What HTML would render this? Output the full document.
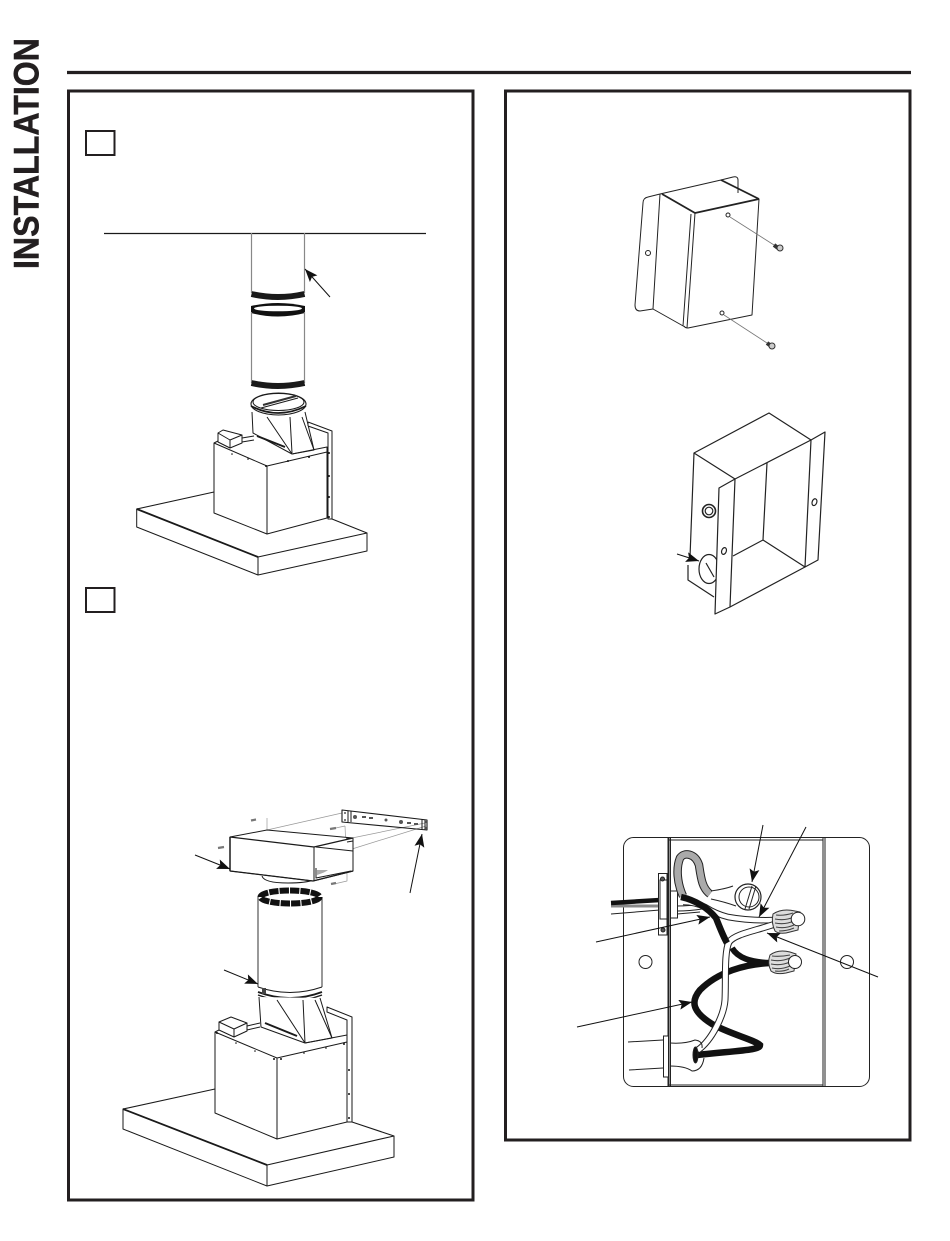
<!DOCTYPE html>
<html><head><meta charset="utf-8"><style>
html,body{margin:0;padding:0;background:#fff}
svg{display:block}
text{font-family:"Liberation Sans",sans-serif;font-weight:bold;fill:#231f20;stroke:#231f20;stroke-width:.5}
</style></head><body>
<svg width="950" height="1241" viewBox="0 0 950 1241" xmlns="http://www.w3.org/2000/svg">
<defs>
<marker id="a" markerUnits="userSpaceOnUse" markerWidth="14" markerHeight="10" refX="13" refY="5" orient="auto"><path d="M0 0L13 5L0 10L2.5 5Z" fill="#111"/></marker>
</defs>
<rect width="950" height="1241" fill="#fff"/>
<text transform="translate(38.500,269) rotate(-90)" font-size="34.8" textLength="231" lengthAdjust="spacingAndGlyphs">INSTALLATION</text>
<g fill="none" stroke="#231f20" stroke-width="3">
<path d="M67 72.500H911" stroke-width="3.200"/>
<rect x="68.500" y="91" width="404.500" height="1109"/>
<rect x="505.500" y="91" width="404.500" height="1049"/>
<rect x="86" y="131" width="28.500" height="24" stroke-width="2"/>
<rect x="86" y="588" width="28.500" height="24" stroke-width="2"/>
</g>

<!-- Figure 1 -->
<g fill="none" stroke="#1a1a1a" stroke-width="1" stroke-linejoin="round">
<path d="M104 233.500H426" stroke-width="1.300"/>
<path d="M251.500 233V293M304.500 233V293" stroke="#888" stroke-width="1.200"/>
<path d="M251.500 294Q278 300 304.500 294" stroke-width="6"/>
<path d="M251 306Q278 300 305 306V313Q278 320 251 313Z" fill="#111" stroke="none"/>
<ellipse cx="278" cy="308.500" rx="24" ry="2.800" fill="#fff" stroke="none"/>
<path d="M251.500 312V383M304.500 312V383" stroke="#888" stroke-width="1.200"/>
<path d="M251.500 383Q278 389 304.500 383" stroke-width="6"/>
<!-- transition -->
<path d="M252 412L253 433L292 454L314 450L305 412" fill="#fff"/>
<path d="M267 417L292 454M290 417L292 453M302 417L314 450"/>
<path d="M257 436L285 447" stroke-width="2"/>
<ellipse cx="278.500" cy="404" rx="27.500" ry="11" fill="#fff" stroke-width="1.100"/>
<ellipse cx="278.500" cy="402" rx="25.500" ry="8.500" fill="#fff" stroke-width="1"/>
<path d="M251 406Q278 420 306 406" stroke-width="1.800"/>
<path d="M261 408L298 398" stroke-width="1"/>
<path d="M263 405L296 396" stroke-width="2" stroke="#333"/>
<!-- box -->
<path d="M214 443L267 466L267 534L214 513Z" fill="#fff"/>
<path d="M267 466L327 452V518L267 534Z" fill="#fff"/>
<path d="M214 443L218 441M292 454L327 447V452"/>
<path d="M308 422L332 431V519H328V433L308 426M308 422V426" fill="#fff"/>
<path d="M218 433L223 430L242 435V443L230 448L218 442Z" fill="#fff"/>
<path d="M230 440V448M218 433L230 440L242 435M242 438L254 436M242 442L254 440"/>
<!-- base -->
<path d="M214 492L136.700 509L258 557L367 533L332 519" stroke-width="1.100"/>
<path d="M136.700 509L258 557" stroke-width="1.800"/>
<path d="M136.700 509V527L258 575L367 551V533M258 557V575"/>
</g>
<path d="M330 297L305 269" stroke="#111" fill="none" marker-end="url(#a)"/>
<g fill="#111">
<circle cx="232" cy="454" r=".8"/><circle cx="248" cy="459" r=".8"/><circle cx="266" cy="466" r="1"/><circle cx="288" cy="461" r="1"/><circle cx="309" cy="457" r="1"/><circle cx="329" cy="453" r="1"/><circle cx="329" cy="476" r="1"/><circle cx="329" cy="497" r="1"/><circle cx="329" cy="517" r="1"/>
</g>

<!-- Figure 2 -->
<g fill="none" stroke="#1a1a1a" stroke-width="1" stroke-linejoin="round">
<!-- guide lines -->
<g stroke="#999" stroke-width=".7">
<path d="M267 818V831M241 845L232 847M267 830L342 813M345 826L347 872L347 881L334 884M345 826L331 829M352 838L425 823M352 849L426 826"/>
</g>
<g stroke="#777" stroke-width="2.200">
<path d="M251 820.500L256 819.500M218 848L224 847M330 829L336 828M331 884L336 883"/>
</g>
<!-- bracket -->
<path d="M342 810L427 820V830L342 822Z" stroke-width="1.100"/>
<path d="M348 811V822M351 811V822M422 819V829M425 820V830" stroke-width="1"/>
<g fill="#555" stroke="none"><circle cx="355" cy="817" r="2"/><rect x="362" y="816" width="4" height="2"/><rect x="369" y="817" width="4" height="2"/><circle cx="386" cy="820" r="1.500"/><circle cx="401" cy="822" r="2"/><rect x="407" y="822" width="4" height="2"/><rect x="414" y="823" width="4" height="2"/><circle cx="345" cy="813" r="1"/><circle cx="345" cy="820" r="1"/><circle cx="426" cy="822" r="1"/><circle cx="426" cy="828" r="1"/></g>
<!-- duct box -->
<path d="M262 876Q264 883 288 883Q306 883 313 880" fill="#fff"/>
<path d="M230 837L267 830L353 838V871L313 881L230 871Z" fill="#fff"/>
<path d="M230 837L314 847L353 838" stroke-width="1.300"/>
<path d="M230 837V871" stroke-width="1.500"/>
<path d="M230 871L313 881L353 871" stroke-width="1.300"/>
<path d="M314 847V881"/>
<path d="M316 847L353 851V871M316 868V878L351 871"/>
<path d="M346 838L353 838V841L347 842" stroke-width="1"/>
<path d="M317 870Q325 870 328 870Q326 872 317 875Z" fill="#aaa" stroke="none"/>
<!-- duct -->
<path d="M258 897V987M322 897V987" stroke="#555" stroke-width="1.200"/>
<ellipse cx="290" cy="897" rx="29.500" ry="6.500" stroke="#111" stroke-width="6" stroke-dasharray="9.300 1.100"/>
<path d="M258 987Q290 998 322 987" fill="#fff"/>
<path d="M258 992Q290 1004 322 992" stroke-width="1.800"/>
<path d="M258 995Q290 1007 322 995" stroke-width="1.400"/>
<!-- transition -->
<path d="M259 997L261 1027L305 1043L332 1038L320 998" fill="#fff"/>
<path d="M277 1000L305 1043M303 1000L305 1043M315 1000L332 1038"/>
<path d="M265 1023L297 1036" stroke-width="2"/>
<rect x="262" y="988" width="4" height="6" fill="#444" stroke="none"/>
<!-- box -->
<path d="M215 1032L277 1058V1139L215 1113Z" fill="#fff"/>
<path d="M277 1058L347 1042V1122L277 1139Z" fill="#fff"/>
<path d="M215 1032L219 1030M305 1043L347 1035V1042"/>
<path d="M327 1007L352 1017V1122H347V1020L327 1012ZM327 1007V1012" fill="#fff"/>
<path d="M219 1022L231 1017L247 1023V1031L234 1037L219 1030Z" fill="#fff"/>
<path d="M234 1029V1037M219 1022L234 1029L247 1023M247 1026L260 1023M247 1030L260 1027"/>
<!-- base -->
<path d="M215 1089L123 1109L267 1165L394 1136L352 1122" stroke-width="1.100"/>
<path d="M123 1109L267 1165" stroke-width="1.800"/>
<path d="M123 1109V1129L267 1186L394 1157V1136M267 1165V1186"/>
</g>
<g stroke="#111" fill="none">
<path d="M195 855L230 869" marker-end="url(#a)"/>
<path d="M410 893L422 834" marker-end="url(#a)"/>
<path d="M224 970L258 984" marker-end="url(#a)"/>
</g>
<g fill="#111">
<circle cx="217" cy="1033" r="1"/><circle cx="236" cy="1043" r=".8"/><circle cx="255" cy="1051" r=".8"/><circle cx="274" cy="1059" r="1"/><circle cx="281" cy="1059" r="1"/><circle cx="304" cy="1053" r=".8"/><circle cx="326" cy="1048" r=".8"/><circle cx="344" cy="1044" r="1"/><circle cx="349" cy="1070" r="1"/><circle cx="349" cy="1094" r="1"/><circle cx="349" cy="1118" r="1"/>
</g>

<!-- Figure 3 -->
<g fill="none" stroke="#222" stroke-width="1" stroke-linejoin="round">
<path d="M660 194L648 197Q643 198 643 203L635 305Q635 311 640 311L653 309"/>
<path d="M660 194L653 309L685 327"/>
<path d="M660 194L721 180L759 199" stroke-width="1"/>
<path d="M662 194L695 213M721 180L759 199M695 213L759 199" stroke-width="1.800"/>
<path d="M759 199L752 315L688 328Q685 328 684 326M691 214L683 326M695 213L687 328"/>
<path d="M721 180L733 177Q738 176 738 180L738 193"/>
<circle cx="648" cy="253" r="2.500"/>
<circle cx="728" cy="215" r="2"/><circle cx="722" cy="313" r="2"/>
<path d="M730 217L774 245M724 315L767 343" stroke="#777" stroke-width=".8"/>
<path d="M774 245L778 248M767 343L771 346" stroke="#333" stroke-width="4"/>
<circle cx="780" cy="248" r="3" fill="#ccc" stroke="#333"/><circle cx="772" cy="346" r="3" fill="#ccc" stroke="#333"/>
</g>

<!-- Figure 4 -->
<g fill="none" stroke="#222" stroke-width="1.200" stroke-linejoin="round">
<path d="M769 413L694 453L735 479L811 440Z"/>
<path d="M694 453L690 557M688 565V580L714 597"/>
<ellipse cx="709" cy="569" rx="10" ry="14.500" fill="#fff"/>
<path d="M706 563L714 577"/>
<path d="M719 488L735 479L730 607L715 614Z" fill="#fff"/>
<path d="M811 440L825 432L818 560L805 567Z"/>
<path d="M767 463L763 540L733 556M763 540L805 567M730 607L805 567"/>
<circle cx="709" cy="511" r="6.500" stroke-width="1.600"/><circle cx="709" cy="511" r="3.800"/>
<ellipse cx="724" cy="551" rx="2.300" ry="3.500" transform="rotate(20 724 551)"/>
<ellipse cx="814.500" cy="502" rx="2.300" ry="3.500" transform="rotate(20 814 502)"/>
</g>
<path d="M677 554L699 561" stroke="#111" fill="none" marker-end="url(#a)"/>

<!-- Figure 5 -->
<g fill="none" stroke="#222" stroke-width="1">
<rect x="623.500" y="837.500" width="246" height="249" rx="10"/>
<path d="M668.500 837V1087" stroke-width="2"/>
<path d="M670.500 837V1087M823 837V1087M825 837V1087"/>
<path d="M668 840H823M668 1085H823"/>
<circle cx="645.500" cy="962" r="6.500"/>
<circle cx="847" cy="962" r="6.500"/>
<path d="M611 914L660 910" stroke-width="1"/>
<path d="M611 906L660 906" stroke="#888" stroke-width="3"/>
<path d="M611 903L660 900" stroke="#111" stroke-width="4.500"/>
<rect x="658.500" y="873.500" width="8.500" height="61.500" fill="#fff"/>
<rect x="660" y="880" width="7" height="39" fill="#fff"/>
<rect x="670.500" y="891" width="7" height="27" fill="#fff"/>
<circle cx="662.500" cy="879" r="2" fill="#555"/><circle cx="663" cy="930" r="2" fill="#555"/>
<path d="M677 906Q690 906 700 904M677 911Q690 911 702 909M677 914L700 912"/>
<!-- ground wire -->
<path d="M683 896C677 883 676 868 680 858C684 852 695 853 699 865C701 878 702 888 710 894" stroke="#222" stroke-width="8.500"/>
<path d="M683 896C677 883 676 868 680 858C684 852 695 853 699 865C701 878 702 888 710 894" stroke="#aaa" stroke-width="6.500"/>
<path d="M711 891Q725 889 733 886M711 899Q725 902 736 906"/>
<circle cx="748" cy="897" r="13" fill="#fff" stroke-width="1.200"/>
<circle cx="749" cy="897" r="10"/>
<path d="M745 909L752 886M749 909L756 886"/>
<!-- white wires -->
<path d="M683 902Q695 902 705 907Q716 914 728 917Q750 921 775 920" stroke="#222" stroke-width="6.500"/>
<path d="M683 902Q695 902 705 907Q716 914 728 917Q750 921 775 920" stroke="#fff" stroke-width="4.500"/>
<!-- black wire lower -->
<path d="M770 963C745 964 718 972 700 990C690 1002 693 1012 712 1024C730 1034 755 1040 760 1045C760 1050 745 1050 697 1055" stroke="#111" stroke-width="6.500"/>
<!-- white lower -->
<path d="M775 924C755 931 735 934 729 942C724 952 726 980 725 1000C724 1015 712 1040 698 1050" stroke="#222" stroke-width="7"/>
<path d="M775 924C755 931 735 934 729 942C724 952 726 980 725 1000C724 1015 712 1040 698 1050" stroke="#fff" stroke-width="5"/>
<!-- black upper -->
<path d="M681 897C695 900 708 908 716 918C720 928 723 936 727 943" stroke="#111" stroke-width="6.500"/>
<path d="M732 948C738 958 750 962 770 963" stroke="#111" stroke-width="6"/>
<!-- nuts -->
<path d="M773 914Q782 908 795 911L800 912L798 930L790 932Q780 935 775 931Q771 923 773 914Z" fill="#ddd" stroke="#333"/>
<path d="M776 915Q784 916 793 913M775 919Q785 921 794 917M775 923Q785 925 794 921M776 927Q785 929 794 925M779 931Q787 931 794 928" stroke="#444" stroke-width="1.100"/>
<circle cx="798" cy="919" r="6.800" fill="#fff"/>
<path d="M770 955Q778 949 790 952L796 954L794 971L786 973Q776 975 771 971Q767 963 770 955Z" fill="#ddd" stroke="#333"/>
<path d="M772 956Q780 957 790 955M771 960Q781 962 790 958M771 964Q781 966 790 962M772 968Q781 970 790 966M775 971Q783 972 789 969" stroke="#444" stroke-width="1.100"/>
<circle cx="795" cy="962" r="6.500" fill="#fff"/>
<!-- bottom connector -->
<path d="M628 1042L663 1040M629 1070L663 1068"/>
<rect x="663.500" y="1036" width="5" height="41" fill="#fff"/>
<path d="M670 1043Q685 1044 695 1040Q703 1041 702 1048M670 1066Q685 1066 692 1071Q702 1071 704 1058"/>
<ellipse cx="695.500" cy="1055" rx="2.500" ry="8" fill="#111"/>
</g>
<g stroke="#111" fill="none">
<path d="M763 825L752 882" marker-end="url(#a)"/>
<path d="M806 827L759 917" marker-end="url(#a)"/>
<path d="M596 942L710 917" marker-end="url(#a)"/>
<path d="M878 977L767 933" marker-end="url(#a)"/>
<path d="M577 1027L692 1002" marker-end="url(#a)"/>
</g>
</svg>
</body></html>
